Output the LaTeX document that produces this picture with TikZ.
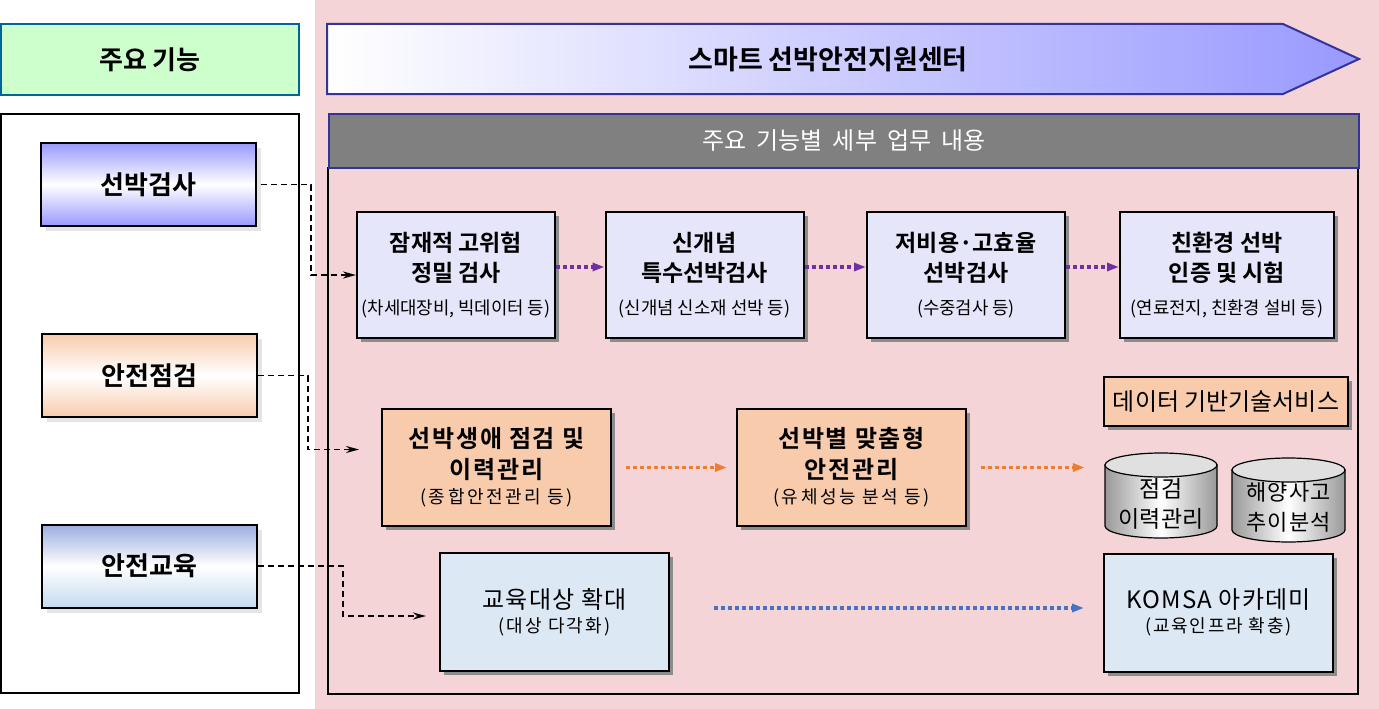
\documentclass[tikz,border=0pt]{standalone}
\usepackage{fontspec}
\setmainfont{Noto Sans CJK KR}[BoldFont={Noto Sans CJK KR Bold}]
\usepackage{xcolor}
\usetikzlibrary{arrows.meta,calc,positioning,shadows}

\definecolor{pinkbg}{HTML}{F4D4D6}
\definecolor{greenfill}{HTML}{CCFFCC}
\definecolor{greenline}{HTML}{006699}
\definecolor{bannerline}{HTML}{333399}
\definecolor{bannerblue}{HTML}{9999FF}
\definecolor{inspblue}{HTML}{9999FF}
\definecolor{peach}{HTML}{F8CBAD}
\definecolor{eduTop}{HTML}{9AADE0}
\definecolor{eduBot}{HTML}{C5DAF0}
\definecolor{lavender}{HTML}{E6E6FA}
\definecolor{skyfill}{HTML}{DDE8F5}
\definecolor{flowpurple}{HTML}{7030A0}
\definecolor{floworange}{HTML}{ED7D31}
\definecolor{flowblue}{HTML}{4472C4}

\newcommand{\fsz}[2]{\fontsize{#1pt}{#2pt}\selectfont}

\begin{document}
\begin{tikzpicture}[x=1pt,y=-1pt,
    funcbox/.style={draw=black,line width=2pt,minimum width=215pt,minimum height=83pt,
      font=\bfseries\fsz{26}{30},
      drop shadow={shadow xshift=5pt,shadow yshift=-5pt,fill=black!10,opacity=1}},
    taskbox/.style={draw=black,line width=2pt,align=center,inner sep=0pt,
      drop shadow={shadow xshift=4pt,shadow yshift=-4pt,fill=black!45,opacity=1}},
    linkline/.style={line width=1.8pt,dash pattern=on 6pt off 4pt,
      -{Stealth[length=13pt,width=7pt]}},
    flowline/.style={line width=3.5pt,dash pattern=on 4pt off 3pt,
      -{Triangle[length=12pt,width=8pt]}}]
  \useasboundingbox (0,0) rectangle (1379,709);
  \fill[pinkbg] (315,0) rectangle (1379,709);

  % left column
  \node[fill=greenfill,draw=greenline,line width=2pt,minimum width=298pt,minimum height=71pt,
    font=\bfseries\fsz{26}{30}] (funcTitle) at (150,59.5) {주요 기능};
  \draw[line width=2pt,fill=white] (1,114) rectangle (299,693);
  \node[funcbox,top color=inspblue,bottom color=inspblue,middle color=white] (inspect) at (148.5,184.5) {선박검사};
  \node[funcbox,top color=peach,bottom color=peach,middle color=white] (check) at (149.5,375.5) {안전점검};
  \node[funcbox,top color=eduTop,bottom color=eduBot,middle color=white] (educate) at (149.5,566) {안전교육};

  % banner and header
  \shadedraw[left color=white,right color=bannerblue,draw=bannerline,line width=2pt]
    (327,24) -- (1283,24) -- (1359,59) -- (1283,94) -- (327,94) -- cycle;
  \node[font=\bfseries\fsz{27}{30}] (center) at (828,59) {스마트 선박안전지원센터};
  \draw[line width=2pt] (328,168) rectangle (1358,694);
  \node[fill=black!50,draw=bannerline,line width=2pt,minimum width=1030pt,minimum height=54pt,
    text=white,font=\fsz{24}{28}] (detail) at (844,141)
    {주요\hspace{10pt}기능별\hspace{10pt}세부\hspace{10pt}업무\hspace{10pt}내용};

  % inspection row
  \begin{scope}[every node/.style={taskbox,fill=lavender,minimum width=198pt,minimum height=126pt,
      font=\bfseries\fsz{23}{30}}]
    \node (hiRisk) at (456,275) {잠재적 고위험\\정밀 검사\\[3pt]{\mdseries\fsz{17.8}{20}(차세대장비, 빅데이터 등)}};
    \node (special) at (704.5,275) {신개념\\특수선박검사\\[3pt]{\mdseries\fsz{17.8}{20}(신개념 신소재 선박 등)}};
    \node (lowCost) at (966,275) {저비용·고효율\\선박검사\\[3pt]{\mdseries\fsz{17.8}{20}(수중검사 등)}};
    \node[minimum width=214pt] (green) at (1227,275) {친환경 선박\\인증 및 시험\\[3pt]{\mdseries\fsz{17.8}{20}(연료전지, 친환경 설비 등)}};
  \end{scope}

  % check row
  \begin{scope}[every node/.style={taskbox,fill=peach,minimum width=229pt,minimum height=117pt,
      font=\bfseries\fsz{24}{31}\addfontfeatures{LetterSpace=7}}]
    \node (lifeCycle) at (496.5,467.5) {선박생애 점검 및\\이력관리\\[-6pt]{\mdseries\fsz{18}{20}\addfontfeatures{LetterSpace=14}(종합안전관리 등)}};
    \node (custom) at (851.5,467.5) {선박별 맞춤형\\안전관리\\[-6pt]{\mdseries\fsz{18}{20}\addfontfeatures{LetterSpace=14}(유체성능 분석 등)}};
    \node[minimum width=244pt,minimum height=49pt,font=\fsz{24}{28}] (dataSvc) at (1226,401.5) {데이터 기반기술서비스};
  \end{scope}

  % data drums
  \shadedraw[left color=black!40,right color=black!40,middle color=white,line width=1.2pt]
    (1105,465) -- (1105,526) arc[start angle=180,end angle=0,x radius=56,y radius=12] -- (1217,465) -- cycle;
  \filldraw[fill=black!12,line width=1.2pt] (1161,465) ellipse[x radius=56,y radius=12];
  \shadedraw[left color=black!40,right color=black!40,middle color=white,line width=1.2pt]
    (1232,470) -- (1232,530) arc[start angle=180,end angle=0,x radius=56.5,y radius=12] -- (1345,470) -- cycle;
  \filldraw[fill=black!12,line width=1.2pt] (1288.5,470) ellipse[x radius=56.5,y radius=12];
  \node[align=center,font=\fsz{23}{30},minimum width=112pt] (historyDb) at (1161,504) {점검\\이력관리};
  \node[align=center,font=\fsz{22}{30}\addfontfeatures{LetterSpace=6}] (accidentDb) at (1288.5,507) {해양사고\\추이분석};

  % education row
  \begin{scope}[every node/.style={taskbox,fill=skyfill,minimum width=229pt,minimum height=118pt,
      font=\fsz{24}{27}\addfontfeatures{LetterSpace=5}}]
    \node (target) at (554.5,612) {교육대상 확대\\[-3pt]{\fsz{18}{20}\addfontfeatures{LetterSpace=12}(대상 다각화)}};
    \node (academy) at (1218.5,612.5) {KOMSA 아카데미\\[-3pt]{\fsz{18}{20}\addfontfeatures{LetterSpace=10}(교육인프라 확충)}};
  \end{scope}

  % links from functions
  \draw[linkline,shorten <=4pt] (inspect.east) -- ++(54,0) |- (hiRisk.west);
  \draw[linkline] (check.east) -- ++(50,0) |- ($(lifeCycle.west)+(-22,-18)$);
  \draw[linkline] (educate.east) -- ++(85,0) |- ($(target.west)+(-13,4)$);

  % flows
  \draw[flowline,flowpurple] ($(hiRisk.east)+(0,-8)$) -- ($(special.west)+(0,-8)$);
  \draw[flowline,flowpurple] ($(special.east)+(0,-8)$) -- ($(lowCost.west)+(0,-8)$);
  \draw[flowline,flowpurple] ($(lowCost.east)+(0,-8)$) -- ($(green.west)+(0,-8)$);
  \draw[flowline,floworange,shorten <=14pt,shorten >=9pt] (lifeCycle.east) -- (custom.west);
  \draw[flowline,floworange,shorten <=14pt,shorten >=20pt] (custom.east) -- (custom.east -| historyDb.west);
  \draw[flowline,flowblue,shorten <=44pt,shorten >=19pt] ($(target.east)+(0,-4)$) -- ($(academy.west)+(0,-4.5)$);
\end{tikzpicture}
\end{document}
